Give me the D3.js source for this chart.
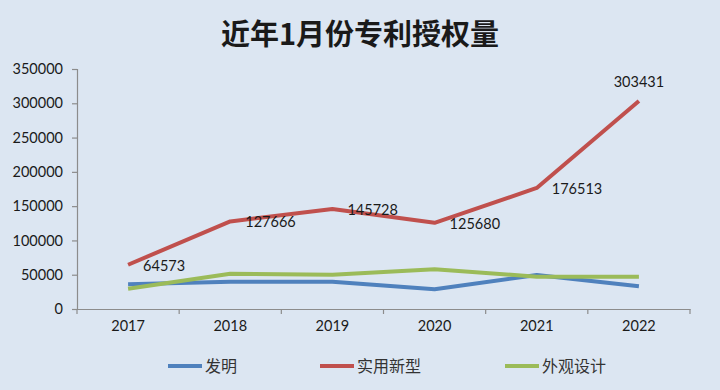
<!DOCTYPE html>
<html><head><meta charset="utf-8">
<script src="https://cdn.jsdelivr.net/npm/d3@7"></script>
<style>
html,body{margin:0;padding:0;background:#dce6f2;}
svg{display:block;}
</style></head>
<body>
<svg id="chart" width="720" height="390"></svg>
<script>
const title = "近年1月份专利授权量";
const years = ["2017","2018","2019","2020","2021","2022"];
const seriesNames = ["发明","实用新型","外观设计"];
const invention = [36000, 39800, 39800, 28700, 49600, 33100];
const utility = [64573, 127666, 145728, 125680, 176513, 303431];
const design = [29600, 51500, 50000, 57900, 47100, 47100];
const utilityLabels = ["64573","127666","145728","125680","176513","303431"];
const yTicks = [0, 50000, 100000, 150000, 200000, 250000, 300000, 350000];
const colors = ["#4f81bd", "#c0504d", "#9bbb59"];

(function(){
const svg = d3.select("#chart");
svg.append("rect").attr("width",720).attr("height",390).attr("fill","#dce6f2");

const mLeft = 77, mRight = 690, mTop = 69, mBottom = 309;
const x = d3.scaleBand().domain(years).range([mLeft, mRight]);
const y = d3.scaleLinear().domain([0, 350000]).range([mBottom, mTop]);

svg.append("text").attr("x", 360).attr("y", 45).attr("text-anchor","middle")
  .attr("font-family","'Noto Sans CJK SC', sans-serif").attr("font-weight",700)
  .attr("font-size",29).attr("fill","#1a1a1a").text(title);

const yAxis = svg.append("g").attr("transform",`translate(${mLeft},0)`)
  .call(d3.axisLeft(y).tickValues(yTicks).tickFormat(d3.format("d")).tickSize(5).tickPadding(9));
const xAxis = svg.append("g").attr("transform",`translate(0,${mBottom})`)
  .call(d3.axisBottom(x).tickSize(0).tickPadding(12));
[yAxis, xAxis].forEach(g => {
  g.select(".domain").attr("stroke","#8c8c8c").attr("stroke-width",1.2);
  g.selectAll(".tick line").attr("stroke","#8c8c8c").attr("stroke-width",1.2);
  g.selectAll("text").attr("font-family","Lato, 'Open Sans', sans-serif").attr("font-size",14.5).attr("fill","#1a1a1a");
});
const bounds = years.map(d => x(d)).concat([mRight]);
svg.append("g").selectAll("line").data(bounds).join("line")
  .attr("x1", d=>d).attr("x2", d=>d).attr("y1", mBottom).attr("y2", mBottom+5)
  .attr("stroke","#8c8c8c").attr("stroke-width",1.2);

const cx = d => x(d) + x.bandwidth()/2;
const line = d3.line().x((v,i)=>cx(years[i])).y(v=>y(v));
const allSeries = [invention, utility, design];
allSeries.forEach((s,i) => {
  svg.append("path").datum(s).attr("d", line).attr("fill","none")
    .attr("stroke", colors[i]).attr("stroke-width", 4).attr("stroke-linejoin","round");
});

svg.append("g").selectAll("text").data(utility).join("text")
  .attr("x", (v,i) => i === 5 ? cx(years[i]) : cx(years[i]) + 15)
  .attr("y", (v,i) => i === 5 ? y(v) - 14 : y(v) + 6)
  .attr("text-anchor", (v,i) => i === 5 ? "middle" : "start")
  .attr("font-family","Lato, 'Open Sans', sans-serif").attr("font-size",14.5).attr("fill","#1a1a1a")
  .text((v,i) => utilityLabels[i]);

const legendX = [168, 320, 505];
const lg = svg.append("g").selectAll("g").data(seriesNames).join("g")
  .attr("transform",(d,i)=>`translate(${legendX[i]},366)`);
lg.append("line").attr("x1",0).attr("x2",34).attr("y1",0).attr("y2",0)
  .attr("stroke",(d,i)=>colors[i]).attr("stroke-width",4);
lg.append("text").attr("x",37).attr("y",6)
  .attr("font-family","'Noto Sans CJK SC', sans-serif").attr("font-size",16).attr("fill","#333")
  .text(d=>d);
})();
</script>
</body></html>
